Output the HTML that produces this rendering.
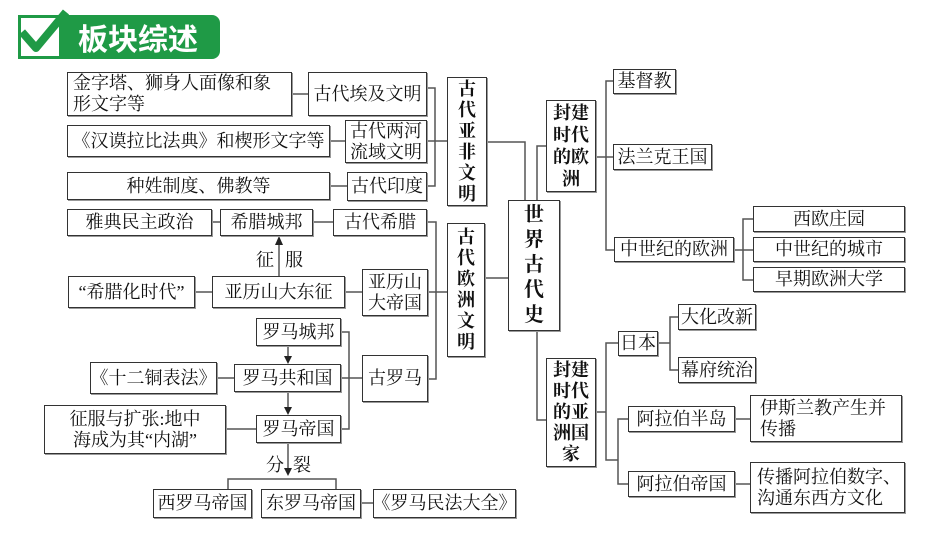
<!DOCTYPE html>
<html><head><meta charset="utf-8">
<style>
body{margin:0;background:#fff;}
#c{position:relative;width:950px;height:535px;overflow:hidden;background:#fff;font-family:"Liberation Serif","Noto Serif CJK SC","WenQuanYi Zen Hei",serif;color:#111;}
.b{position:absolute;box-sizing:border-box;border:1.5px solid #333;background:#fff;display:flex;align-items:center;justify-content:center;text-align:center;font-size:18px;line-height:21px;white-space:nowrap;box-shadow:1px 1px 0 #999;}
.l{justify-content:flex-start;text-align:left;padding-left:5px;}
.v{line-height:21px;white-space:normal;font-weight:bold;}
.t{position:absolute;font-size:18px;}
svg{position:absolute;left:0;top:0;}
</style></head><body><div id="c">
<div style="position:absolute;left:60px;top:15px;width:160px;height:44px;background:#1f9a46;border-radius:0 8px 8px 0;"></div>
<div style="position:absolute;left:18px;top:15px;width:44px;height:44px;box-sizing:border-box;border:3px solid #1f9a46;background:#fff;"></div>
<div style="position:absolute;left:78px;top:17px;font-family:'Noto Sans CJK SC',sans-serif;font-weight:bold;font-size:30px;line-height:40px;color:#fff;">板块综述</div>
<svg width="950" height="535">
<path d="M22 32 L36 48 L66 12" stroke="#1f9a46" stroke-width="8" fill="none" stroke-linejoin="round"/>
<g stroke="#555" stroke-width="1.5" fill="none">
<line x1="292" y1="94" x2="308" y2="94"/>
<line x1="330" y1="141" x2="345" y2="141"/>
<line x1="330" y1="186" x2="347" y2="186"/>
<polyline points="427,88 435,88 435,186 427,186"/>
<line x1="427" y1="141" x2="447" y2="141"/>
<polyline points="487,142 525,142 525,200"/>
<line x1="212" y1="222" x2="220" y2="222"/>
<line x1="313" y1="222" x2="333" y2="222"/>
<polyline points="427,222 436,222 436,379 428,379"/>
<line x1="428" y1="292" x2="448" y2="292"/>
<line x1="485" y1="278" x2="508" y2="278"/>
<line x1="279" y1="276" x2="279" y2="242"/>
<line x1="195" y1="292" x2="212" y2="292"/>
<line x1="345" y1="292" x2="362" y2="292"/>
<polyline points="341,332 349,332 349,429 341,429"/>
<line x1="341" y1="378" x2="362" y2="378"/>
<line x1="217" y1="378" x2="234" y2="378"/>
<line x1="226" y1="429" x2="256" y2="429"/>
<line x1="288" y1="346" x2="288" y2="358"/>
<line x1="288" y1="392" x2="288" y2="409"/>
<line x1="288" y1="443" x2="288" y2="470"/>
<polyline points="228,489 228,479 336,479 336,489"/>
<line x1="361" y1="503" x2="373" y2="503"/>
<polyline points="546,146 537,146 537,200"/>
<polyline points="537,331 537,420 546,420"/>
<line x1="596" y1="157" x2="606" y2="157"/>
<polyline points="613,81 606,81 606,250 614,250"/>
<line x1="606" y1="157" x2="613" y2="157"/>
<line x1="734" y1="250" x2="753" y2="250"/>
<polyline points="753,219 743,219 743,280 753,280"/>
<line x1="596" y1="412" x2="606" y2="412"/>
<polyline points="618,343 606,343 606,460 618,460"/>
<line x1="658" y1="343" x2="670" y2="343"/>
<polyline points="678,317 670,317 670,370 678,370"/>
<polyline points="628,419 618,419 618,484 628,484"/>
<line x1="735" y1="419" x2="750" y2="419"/>
<line x1="735" y1="484" x2="750" y2="484"/>
</g>
<g fill="#222">
<polygon points="279,236 275,245 283,245"/>
<polygon points="288,364 284,356 292,356"/>
<polygon points="288,415 284,407 292,407"/>
<polygon points="288,476 284,468 292,468"/>
</g>
</svg>
<div class="b l" style="left:67px;top:72px;width:225px;height:44px;">金字塔、狮身人面像和象<br>形文字等</div>
<div class="b" style="left:308px;top:72px;width:119px;height:44px;">古代埃及文明</div>
<div class="b" style="left:67px;top:125px;width:263px;height:32px;">《汉谟拉比法典》和楔形文字等</div>
<div class="b" style="left:345px;top:120px;width:82px;height:43px;">古代两河<br>流域文明</div>
<div class="b" style="left:67px;top:172px;width:263px;height:28px;">种姓制度、佛教等</div>
<div class="b" style="left:347px;top:172px;width:80px;height:29px;">古代印度</div>
<div class="b v" style="left:447px;top:77px;width:40px;height:129px;">古<br>代<br>亚<br>非<br>文<br>明</div>
<div class="b" style="left:67px;top:209px;width:145px;height:27px;">雅典民主政治</div>
<div class="b" style="left:220px;top:209px;width:93px;height:27px;">希腊城邦</div>
<div class="b" style="left:333px;top:209px;width:94px;height:27px;">古代希腊</div>
<div class="b v" style="left:447px;top:223px;width:38px;height:134px;">古<br>代<br>欧<br>洲<br>文<br>明</div>
<div class="b v" style="left:508px;top:200px;width:52px;height:131px;font-size:20px;line-height:25px;">世<br>界<br>古<br>代<br>史</div>
<div class="t" style="left:256px;top:246px;">征</div>
<div class="t" style="left:285px;top:246px;">服</div>
<div class="b" style="left:68px;top:276px;width:127px;height:32px;">“希腊化时代”</div>
<div class="b" style="left:212px;top:276px;width:133px;height:32px;">亚历山大东征</div>
<div class="b" style="left:362px;top:269px;width:66px;height:47px;">亚历山<br>大帝国</div>
<div class="b" style="left:256px;top:318px;width:85px;height:28px;">罗马城邦</div>
<div class="b" style="left:90px;top:362px;width:127px;height:32px;">《十二铜表法》</div>
<div class="b" style="left:234px;top:364px;width:107px;height:28px;">罗马共和国</div>
<div class="b" style="left:362px;top:355px;width:66px;height:47px;">古罗马</div>
<div class="b" style="left:44px;top:405px;width:182px;height:49px;">征服与扩张:地中<br>海成为其“内湖”</div>
<div class="b" style="left:256px;top:415px;width:85px;height:28px;">罗马帝国</div>
<div class="t" style="left:266px;top:451px;">分</div>
<div class="t" style="left:293px;top:451px;">裂</div>
<div class="b" style="left:153px;top:489px;width:99px;height:29px;">西罗马帝国</div>
<div class="b" style="left:261px;top:489px;width:100px;height:29px;">东罗马帝国</div>
<div class="b" style="left:373px;top:489px;width:143px;height:29px;">《罗马民法大全》</div>
<div class="b v" style="left:546px;top:100px;width:50px;height:92px;line-height:22px;">封建<br>时代<br>的欧<br>洲</div>
<div class="b" style="left:613px;top:69px;width:63px;height:25px;">基督教</div>
<div class="b" style="left:613px;top:144px;width:99px;height:26px;">法兰克王国</div>
<div class="b" style="left:614px;top:237px;width:120px;height:25px;">中世纪的欧洲</div>
<div class="b" style="left:753px;top:206px;width:152px;height:26px;">西欧庄园</div>
<div class="b" style="left:753px;top:237px;width:152px;height:25px;">中世纪的城市</div>
<div class="b" style="left:753px;top:267px;width:152px;height:25px;">早期欧洲大学</div>
<div class="b v" style="left:546px;top:358px;width:50px;height:109px;line-height:21px;">封建<br>时代<br>的亚<br>洲国<br>家</div>
<div class="b" style="left:618px;top:331px;width:40px;height:25px;">日本</div>
<div class="b" style="left:678px;top:304px;width:78px;height:26px;">大化改新</div>
<div class="b" style="left:678px;top:357px;width:78px;height:26px;">幕府统治</div>
<div class="b" style="left:628px;top:406px;width:107px;height:26px;">阿拉伯半岛</div>
<div class="b l" style="left:750px;top:395px;width:152px;height:47px;padding-left:9px;">伊斯兰教产生并<br>传播</div>
<div class="b" style="left:628px;top:471px;width:107px;height:26px;">阿拉伯帝国</div>
<div class="b l" style="left:750px;top:462px;width:155px;height:51px;padding-left:6px;">传播阿拉伯数字、<br>沟通东西方文化</div>
</div></body></html>
